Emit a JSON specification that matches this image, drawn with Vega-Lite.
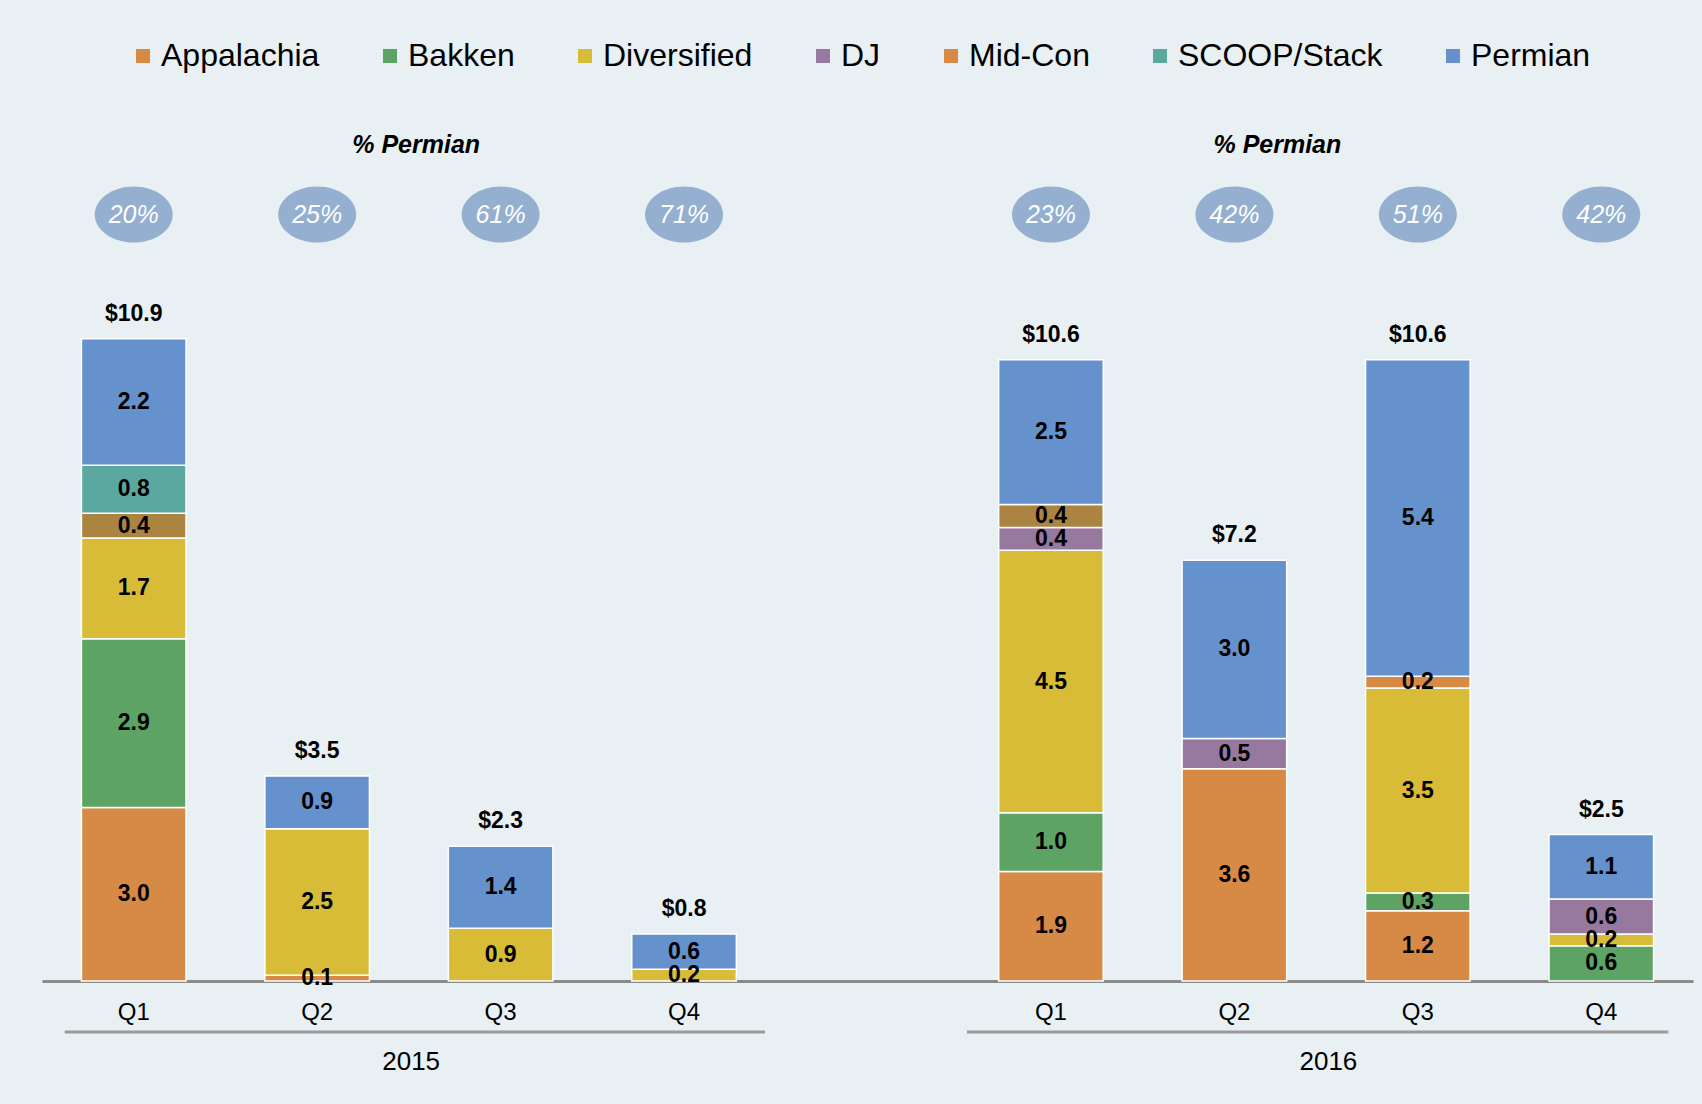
{
  "$schema": "https://vega.github.io/schema/vega-lite/v6.json",
  "width": 1651,
  "height": 879,
  "autosize": {"type": "none"},
  "padding": {"left": 42, "top": 102, "right": 9, "bottom": 123},
  "background": "#E8F0F4",
  "config": {
    "view": {"stroke": null},
    "font": "Liberation Sans",
    "text": {"font": "Liberation Sans"}
  },
  "datasets": {
    "segments": [
      {"slot": "2015 Q1", "region": "Appalachia", "value": 2.96},
      {"slot": "2015 Q1", "region": "Bakken", "value": 2.88},
      {"slot": "2015 Q1", "region": "Diversified", "value": 1.72},
      {"slot": "2015 Q1", "region": "Other", "value": 0.42},
      {"slot": "2015 Q1", "region": "SCOOP/Stack", "value": 0.82},
      {"slot": "2015 Q1", "region": "Permian", "value": 2.16},
      {"slot": "2015 Q2", "region": "Appalachia", "value": 0.1},
      {"slot": "2015 Q2", "region": "Diversified", "value": 2.5},
      {"slot": "2015 Q2", "region": "Permian", "value": 0.9},
      {"slot": "2015 Q3", "region": "Diversified", "value": 0.9},
      {"slot": "2015 Q3", "region": "Permian", "value": 1.4},
      {"slot": "2015 Q4", "region": "Diversified", "value": 0.2},
      {"slot": "2015 Q4", "region": "Permian", "value": 0.6},
      {"slot": "2016 Q1", "region": "Appalachia", "value": 1.87},
      {"slot": "2016 Q1", "region": "Bakken", "value": 1.0},
      {"slot": "2016 Q1", "region": "Diversified", "value": 4.48},
      {"slot": "2016 Q1", "region": "DJ", "value": 0.39},
      {"slot": "2016 Q1", "region": "Other", "value": 0.39},
      {"slot": "2016 Q1", "region": "Permian", "value": 2.47},
      {"slot": "2016 Q2", "region": "Appalachia", "value": 3.62},
      {"slot": "2016 Q2", "region": "DJ", "value": 0.52},
      {"slot": "2016 Q2", "region": "Permian", "value": 3.04},
      {"slot": "2016 Q3", "region": "Appalachia", "value": 1.2},
      {"slot": "2016 Q3", "region": "Bakken", "value": 0.3},
      {"slot": "2016 Q3", "region": "Diversified", "value": 3.5},
      {"slot": "2016 Q3", "region": "Mid-Con", "value": 0.2},
      {"slot": "2016 Q3", "region": "Permian", "value": 5.4},
      {"slot": "2016 Q4", "region": "Bakken", "value": 0.6},
      {"slot": "2016 Q4", "region": "Diversified", "value": 0.2},
      {"slot": "2016 Q4", "region": "DJ", "value": 0.6},
      {"slot": "2016 Q4", "region": "Permian", "value": 1.1}
    ],
    "ranks": [
      {"region": "Appalachia", "rank": 1},
      {"region": "Bakken", "rank": 2},
      {"region": "Diversified", "rank": 3},
      {"region": "DJ", "rank": 4},
      {"region": "Other", "rank": 5},
      {"region": "Mid-Con", "rank": 6},
      {"region": "SCOOP/Stack", "rank": 7},
      {"region": "Permian", "rank": 8}
    ],
    "totals": [
      {"slot": "2015 Q1", "total": 10.9},
      {"slot": "2015 Q2", "total": 3.5},
      {"slot": "2015 Q3", "total": 2.3},
      {"slot": "2015 Q4", "total": 0.8},
      {"slot": "2016 Q1", "total": 10.6},
      {"slot": "2016 Q2", "total": 7.2},
      {"slot": "2016 Q3", "total": 10.6},
      {"slot": "2016 Q4", "total": 2.5}
    ],
    "permian": [
      {"slot": "2015 Q1", "share": 0.20},
      {"slot": "2015 Q2", "share": 0.25},
      {"slot": "2015 Q3", "share": 0.61},
      {"slot": "2015 Q4", "share": 0.71},
      {"slot": "2016 Q1", "share": 0.23},
      {"slot": "2016 Q2", "share": 0.42},
      {"slot": "2016 Q3", "share": 0.51},
      {"slot": "2016 Q4", "share": 0.42}
    ],
    "years": [
      {"year": "2015", "first": "2015 Q1", "second": "2015 Q2", "last": "2015 Q4", "header": "% Permian"},
      {"year": "2016", "first": "2016 Q1", "second": "2016 Q2", "last": "2016 Q4", "header": "% Permian"}
    ]
  },
  "encoding": {
    "x": {
      "field": "slot",
      "type": "nominal",
      "title": null,
      "scale": {
        "domain": ["2015 Q1", "2015 Q2", "2015 Q3", "2015 Q4", "gap", "2016 Q1", "2016 Q2", "2016 Q3", "2016 Q4"],
        "paddingInner": 0.43,
        "paddingOuter": 0.215
      },
      "axis": {
        "labelExpr": "datum.value == 'gap' ? '' : split(datum.value, ' ')[1]",
        "labelAngle": 0,
        "labelFontSize": 24,
        "labelFont": "Liberation Sans",
        "labelColor": "#000000",
        "labelBaseline": "middle",
        "labelPadding": 31,
        "ticks": false,
        "domainColor": "#8A8A8A",
        "domainWidth": 3,
        "grid": false
      }
    }
  },
  "layer": [
    {
      "data": {"name": "segments"},
      "transform": [
        {"lookup": "region", "from": {"data": {"name": "ranks"}, "key": "region", "fields": ["rank"]}}
      ],
      "mark": {"type": "bar", "stroke": "#FFFFFF", "strokeWidth": 1.5},
      "encoding": {
        "y": {
          "field": "value",
          "type": "quantitative",
          "stack": "zero",
          "scale": {"domain": [0, 15], "nice": false, "zero": true},
          "axis": null
        },
        "color": {
          "field": "region",
          "type": "nominal",
          "scale": {
            "domain": ["Appalachia", "Bakken", "Diversified", "DJ", "Other", "Mid-Con", "SCOOP/Stack", "Permian"],
            "range": ["#D68A46", "#5DA464", "#D8BC38", "#9779A0", "#AB8442", "#D68A46", "#5BA8A1", "#6591CC"]
          },
          "legend": {
            "values": ["Appalachia", "Bakken", "Diversified", "DJ", "Mid-Con", "SCOOP/Stack", "Permian"],
            "orient": "none",
            "direction": "horizontal",
            "legendX": 85,
            "legendY": -62,
            "title": null,
            "padding": 0,
            "symbolType": "square",
            "symbolSize": 196,
            "symbolStrokeWidth": 0,
            "symbolOpacity": 1,
            "labelFontSize": 32,
            "labelFont": "Liberation Sans",
            "labelColor": "#000000",
            "labelOffset": 2,
            "labelLimit": 400,
            "columnPadding": 54
          }
        },
        "order": {"field": "rank", "type": "quantitative", "sort": "ascending"}
      }
    },
    {
      "data": {"name": "segments"},
      "transform": [
        {"lookup": "region", "from": {"data": {"name": "ranks"}, "key": "region", "fields": ["rank"]}}
      ],
      "mark": {"type": "text", "fontSize": 23, "fontWeight": "bold", "color": "#000000", "baseline": "middle", "align": "center"},
      "encoding": {
        "y": {"field": "value", "type": "quantitative", "stack": "zero", "bandPosition": 0.5},
        "detail": {"field": "region", "type": "nominal"},
        "order": {"field": "rank", "type": "quantitative", "sort": "ascending"},
        "text": {"field": "value", "type": "quantitative", "format": ".1f"}
      }
    },
    {
      "data": {"name": "segments"},
      "transform": [
        {"aggregate": [{"op": "sum", "field": "value", "as": "stacktop"}], "groupby": ["slot"]},
        {"lookup": "slot", "from": {"data": {"name": "totals"}, "key": "slot", "fields": ["total"]}}
      ],
      "mark": {"type": "text", "fontSize": 23, "fontWeight": "bold", "color": "#000000", "baseline": "middle", "align": "center", "dy": -25},
      "encoding": {
        "y": {"field": "stacktop", "type": "quantitative"},
        "text": {"field": "total", "type": "quantitative", "format": "$.1f"}
      }
    },
    {
      "data": {"name": "permian"},
      "mark": {
        "type": "point",
        "shape": "M-1,0A1,0.72,0,1,1,1,0A1,0.72,0,1,1,-1,0Z",
        "filled": true,
        "size": 6084,
        "color": "#94AFD0",
        "opacity": 1,
        "strokeWidth": 0
      },
      "encoding": {
        "y": {"datum": 13.08, "type": "quantitative"}
      }
    },
    {
      "data": {"name": "permian"},
      "mark": {"type": "text", "fontSize": 25, "fontStyle": "italic", "color": "#FFFFFF", "baseline": "middle", "align": "center"},
      "encoding": {
        "y": {"datum": 13.08, "type": "quantitative"},
        "text": {"field": "share", "type": "quantitative", "format": ".0%"}
      }
    },
    {
      "data": {"name": "years"},
      "transform": [{"filter": {"field": "year", "equal": "2015"}}],
      "mark": {"type": "rule", "color": "#9A9A9A", "strokeWidth": 3, "xOffset": -69, "x2Offset": 81},
      "encoding": {
        "x": {"field": "first", "type": "nominal"},
        "x2": {"field": "last"},
        "y": {"datum": -0.87, "type": "quantitative"}
      }
    },
    {
      "data": {"name": "years"},
      "transform": [{"filter": {"field": "year", "equal": "2016"}}],
      "mark": {"type": "rule", "color": "#9A9A9A", "strokeWidth": 3, "xOffset": -84, "x2Offset": 67},
      "encoding": {
        "x": {"field": "first", "type": "nominal"},
        "x2": {"field": "last"},
        "y": {"datum": -0.87, "type": "quantitative"}
      }
    },
    {
      "data": {"name": "years"},
      "mark": {"type": "text", "fontSize": 26, "color": "#000000", "baseline": "middle", "align": "center", "xOffset": 94},
      "encoding": {
        "x": {"field": "second", "type": "nominal"},
        "y": {"datum": -1.39, "type": "quantitative"},
        "text": {"field": "year", "type": "nominal"}
      }
    },
    {
      "data": {"name": "years"},
      "transform": [{"filter": {"field": "year", "equal": "2015"}}],
      "mark": {"type": "text", "fontSize": 25, "fontWeight": "bold", "fontStyle": "italic", "color": "#000000", "baseline": "middle", "align": "center", "xOffset": 99},
      "encoding": {
        "x": {"field": "second", "type": "nominal"},
        "y": {"datum": 14.26, "type": "quantitative"},
        "text": {"field": "header", "type": "nominal"}
      }
    },
    {
      "data": {"name": "years"},
      "transform": [{"filter": {"field": "year", "equal": "2016"}}],
      "mark": {"type": "text", "fontSize": 25, "fontWeight": "bold", "fontStyle": "italic", "color": "#000000", "baseline": "middle", "align": "center", "xOffset": 43},
      "encoding": {
        "x": {"field": "second", "type": "nominal"},
        "y": {"datum": 14.26, "type": "quantitative"},
        "text": {"field": "header", "type": "nominal"}
      }
    }
  ]
}
